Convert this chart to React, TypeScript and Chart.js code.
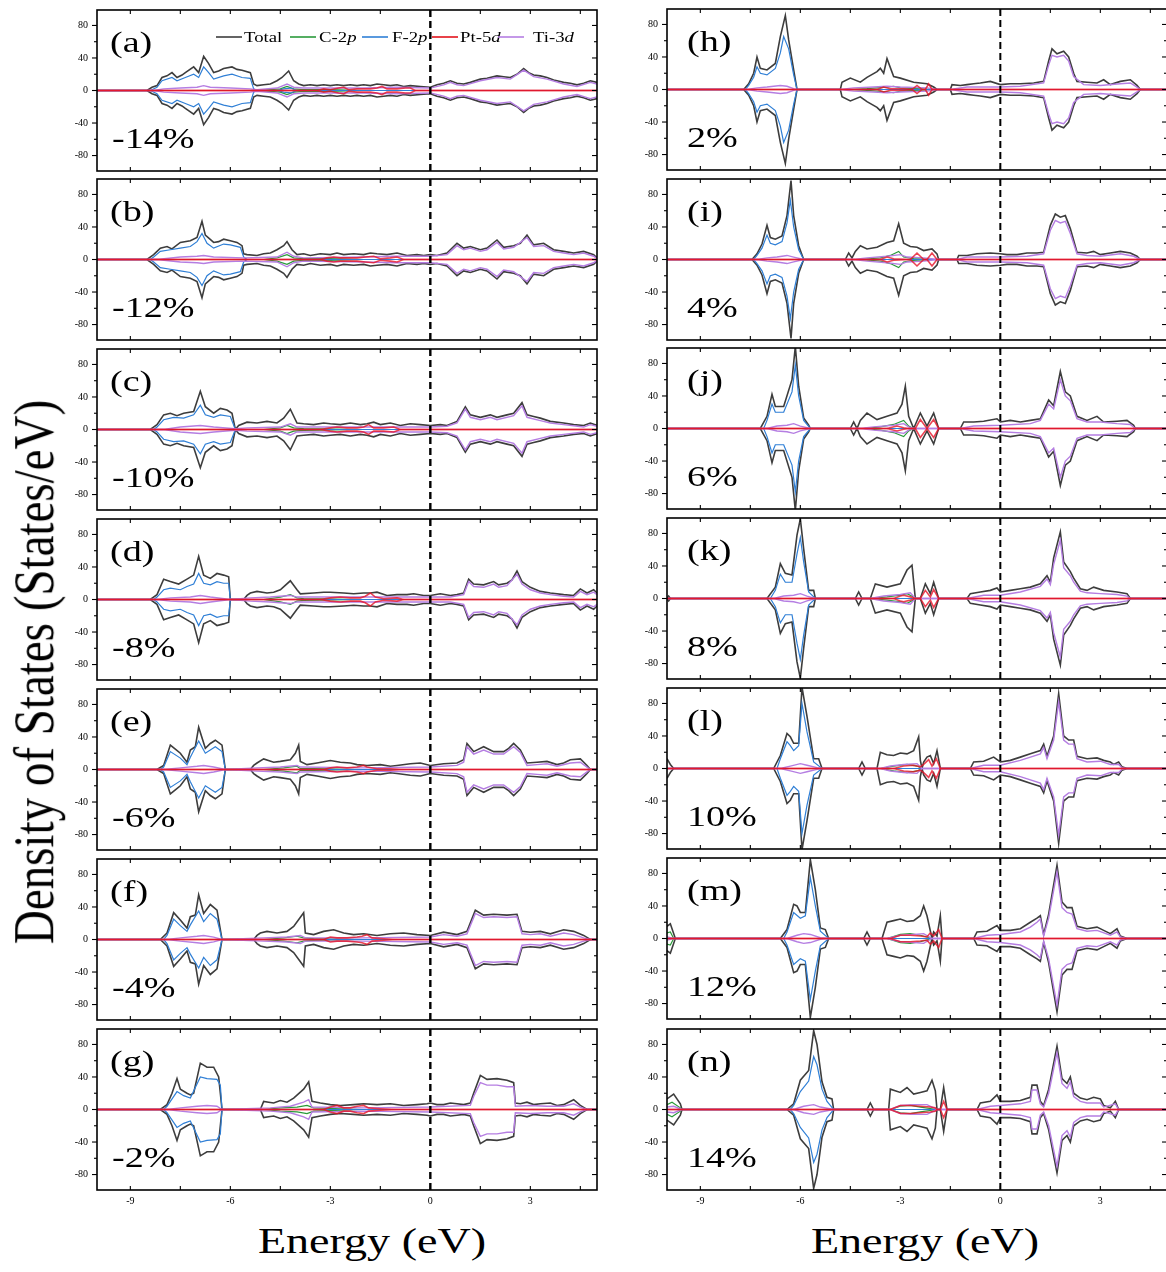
import React, { useEffect, useRef } from "react";
import { Chart, registerables } from "chart.js";
Chart.register(...registerables);

// ---------- axis / labels ----------
const X_MIN = -10;
const X_MAX = 5;
const Y_LIM = 99;
const xMajorTicks = [-9, -6, -3, 0, 3];
const xMinorTicks = [-7.5, -4.5, -1.5, 1.5, 4.5];
const yMajorTicks = [-80, -40, 0, 40, 80];
const yMinorTicks = [-60, -20, 20, 60];
const seriesNames = ["Total", "C-2p", "F-2p", "Pt-5d", "Ti-3d"];
const seriesColors = ["#3d3d3d", "#2a9a3a", "#2f7fd6", "rgba(230,20,40,0.8)", "#b57ee2"];
const legendColors = ["#3d3d3d", "#2a9a3a", "#2f7fd6", "#e3121b", "#b57ee2"];
const seriesWidths = [1.6, 1.2, 1.2, 1.6, 1.4];
// paint order from top to bottom: Pt-5d, Ti-3d, F-2p, C-2p, Total
const paintOrder = [3, 4, 2, 1, 0];
const panelLetters = ["a", "b", "c", "d", "e", "f", "g", "h", "i", "j", "k", "l", "m", "n"];
const strainLabels = ["-14%", "-12%", "-10%", "-8%", "-6%", "-4%", "-2%", "2%", "4%", "6%", "8%", "10%", "12%", "14%"];

// ---------- data: [energy, DOS, energy, DOS, ...] (spin-up; spin-down mirrored) ----------
// (a) -14%
const totA = [-10,0, -8.5,0, -8.35,4, -8.2,6, -8.05,16, -7.9,18, -7.75,22, -7.6,16, -7.45,19, -7.35,22, -7.1,29, -6.95,22, -6.8,42, -6.65,33, -6.5,22, -6.35,24, -6.2,27, -5.95,29, -5.8,26, -5.65,25, -5.4,22, -5.3,8, -5.2,6, -5.0,7, -4.8,8, -4.6,12, -4.45,16, -4.25,24, -4.1,12, -3.95,8, -3.8,6, -3.6,7, -3.4,6, -3.2,7, -3.0,6, -2.8,7, -2.6,6, -2.4,7, -2.2,6, -2.0,7, -1.8,6, -1.6,8, -1.4,7, -1.2,6, -1.0,7, -0.8,5, -0.6,6, -0.3,5, 0,4, 0.2,7, 0.4,9, 0.6,12, 0.8,9, 1.0,8, 1.2,10, 1.5,14, 1.7,15, 2.0,18, 2.2,17, 2.4,16, 2.6,20, 2.8,27, 2.95,22, 3.1,19, 3.3,18, 3.5,16, 3.7,13, 4.0,10, 4.2,9, 4.4,7, 4.6,9, 4.8,12, 5.0,10];
const fA = [-10,0, -8.4,0, -8.2,4, -8.05,12, -7.75,16, -7.6,12, -7.35,16, -7.1,20, -6.95,16, -6.8,29, -6.65,22, -6.5,14, -6.2,18, -5.95,20, -5.65,16, -5.4,15, -5.3,2, -5.2,0, -4.6,0, -4.4,2, -4.2,3, -4.0,0, 5,0];
const tiA = [-10,0, -8.3,0, -8.0,2, -7.5,3, -7.0,4, -6.8,6, -6.6,4, -6.0,3, -5.4,2, -5.2,1, -4.6,3, -4.3,8, -4.1,4, -3.8,3, -2.0,3, -1.0,4, 0,3, 0.4,7, 0.6,10, 0.8,7, 1.0,6, 1.5,12, 2.0,16, 2.4,14, 2.8,25, 3.1,17, 3.5,14, 4.0,8, 4.4,5, 4.8,10, 5.0,8];
const ptA = [-10,0, -3.4,0, -3.2,2, -3.0,1, -2.75,3, -2.6,4, -2.45,1, -2.2,2, -1.8,2, -1.6,3, -1.45,5, -1.3,2, -1.0,2, -0.75,3, -0.6,3, -0.45,0, 5,0];
const cA = [-10,0, -5.2,0, -4.8,1, -4.5,2, -4.3,5, -4.1,2, -3.8,1, -3.0,1, -2.0,0, 5,0];
// (b) -12%
const totB = [-10,0, -8.5,0, -8.3,6, -8.1,14, -7.9,16, -7.75,13, -7.5,21, -7.2,23, -7.0,27, -6.85,47, -6.75,30, -6.5,21, -6.35,22, -6.2,25, -6.0,23, -5.8,21, -5.65,17, -5.6,7, -5.5,6, -5.2,5, -5.0,7, -4.8,8, -4.6,12, -4.4,17, -4.3,22, -4.15,12, -4.0,6, -3.8,7, -3.6,5, -3.3,7, -3.0,6, -2.8,8, -2.6,6, -2.3,7, -2.0,6, -1.8,8, -1.6,7, -1.3,6, -1.0,8, -0.7,5, -0.4,6, -0.2,5, 0,6, 0.2,5, 0.5,8, 0.8,20, 1.0,14, 1.2,16, 1.5,12, 1.7,14, 2.0,24, 2.2,15, 2.5,17, 2.7,20, 2.9,30, 3.1,18, 3.4,20, 3.7,12, 4.0,10, 4.3,8, 4.6,10, 4.9,6, 5.0,2];
const fB = [-10,0, -8.4,0, -8.3,3, -8.1,10, -7.8,12, -7.5,14, -7.2,16, -7.0,22, -6.85,32, -6.7,20, -6.5,14, -6.2,19, -6.0,18, -5.7,15, -5.6,3, -5.5,0, 5,0];
const tiB = [-10,0, -8.2,0, -7.5,3, -7.0,4, -6.8,5, -6.5,3, -5.6,2, -4.6,3, -4.3,9, -4.1,4, -3.8,2, -2.0,3, -1.0,4, 0,4, 0.5,6, 0.8,17, 1.0,12, 1.2,14, 1.5,10, 1.7,12, 2.0,21, 2.2,13, 2.5,15, 2.9,27, 3.1,16, 3.4,17, 3.7,10, 4.0,8, 4.3,6, 4.6,8, 4.9,4, 5.0,1];
const ptB = [-10,0, -3.3,0, -3.1,2, -2.9,3, -2.7,2, -2.4,2, -2.2,2, -1.95,3, -1.7,4, -1.5,1, -1.2,2, -1.0,3, -0.8,0, 5,0];
const cB = [-10,0, -5.0,0, -4.6,2, -4.3,6, -4.1,2, -3.8,1, -3.0,1, -2.0,0, 5,0];
// (c) -10%
const totC = [-10,0, -8.4,0, -8.2,6, -8.0,18, -7.8,20, -7.6,17, -7.4,20, -7.1,22, -6.9,47, -6.75,28, -6.5,20, -6.3,26, -6.1,24, -5.95,20, -5.85,0, -5.75,5, -5.5,9, -5.2,8, -4.9,10, -4.6,8, -4.4,14, -4.2,25, -4.0,8, -3.8,7, -3.5,6, -3.2,8, -3.0,7, -2.7,6, -2.4,8, -2.1,6, -1.9,7, -1.7,9, -1.5,6, -1.2,8, -0.9,5, -0.6,7, -0.3,6, 0,5, 0.3,6, 0.5,5, 0.8,10, 1.05,28, 1.2,18, 1.5,15, 1.8,18, 2.0,15, 2.3,18, 2.5,20, 2.75,33, 2.9,18, 3.1,16, 3.3,14, 3.6,10, 4.0,8, 4.3,6, 4.6,5, 4.8,8, 5.0,5];
const fC = [-10,0, -8.3,0, -8.2,3, -8.0,12, -7.7,15, -7.4,14, -7.1,18, -6.9,30, -6.75,18, -6.5,15, -6.3,18, -6.0,16, -5.85,0, 5,0];
const tiC = [-10,0, -8.0,0, -7.5,3, -6.9,5, -6.5,3, -5.85,1, -5.5,2, -4.5,3, -4.2,7, -4.0,3, -2.0,3, 0,3, 0.5,4, 0.8,8, 1.05,25, 1.2,15, 1.5,12, 1.8,15, 2.0,12, 2.5,17, 2.75,29, 2.9,15, 3.3,11, 3.6,8, 4.0,6, 4.6,3, 4.8,6, 5.0,4];
const ptC = [-10,0, -3.3,0, -3.0,2, -2.8,3, -2.5,2, -2.2,2, -2.0,3, -1.85,6, -1.7,2, -1.4,2, -1.1,3, -0.9,0, 5,0];
const cC = [-10,0, -5.0,0, -4.5,2, -4.3,5, -4.1,2, -3.8,1, -2.0,0, 5,0];
// (d) -8%
const totD = [-10,0, -8.4,0, -8.2,6, -8.0,25, -7.8,22, -7.55,19, -7.3,25, -7.1,30, -6.95,53, -6.8,30, -6.6,26, -6.4,32, -6.2,30, -6.05,28, -6.0,0, -5.6,0, -5.5,5, -5.4,8, -5.2,10, -4.9,8, -4.7,9, -4.5,12, -4.2,23, -4.0,12, -3.9,7, -3.5,8, -3.2,9, -3.0,9, -2.6,8, -2.3,7, -2.0,8, -1.8,8, -1.6,9, -1.3,5, -1.0,6, -0.7,6, -0.5,7, -0.2,5, 0,5, 0.3,7, 0.6,5, 0.8,6, 1.0,8, 1.15,25, 1.3,19, 1.6,18, 1.9,22, 2.05,18, 2.3,20, 2.45,24, 2.6,35, 2.75,22, 3.0,15, 3.3,10, 3.6,8, 4.0,6, 4.3,5, 4.5,13, 4.7,8, 4.9,12, 5.0,8];
const fD = [-10,0, -8.3,0, -8.2,3, -8.0,12, -7.8,14, -7.5,12, -7.3,16, -7.1,19, -6.95,32, -6.8,20, -6.6,18, -6.4,22, -6.2,20, -6.05,20, -6.0,0, 5,0];
const tiD = [-10,0, -8.2,0, -7.8,2, -7.2,3, -6.9,5, -6.6,3, -6.0,0, -5.4,2, -4.8,3, -4.5,4, -4.2,5, -4.0,3, -2.0,3, 0,3, 0.6,3, 1.0,6, 1.15,22, 1.3,16, 1.6,15, 1.9,19, 2.05,15, 2.3,17, 2.6,31, 2.75,19, 3.0,12, 3.3,8, 3.6,6, 4.0,4, 4.3,3, 4.5,10, 4.7,6, 4.9,9, 5.0,6];
const ptD = [-10,0, -3.3,0, -3.0,2, -2.7,3, -2.4,2, -2.1,2, -1.95,4, -1.8,8, -1.65,3, -1.4,1, -1.0,2, -0.8,0, 5,0];
const cD = [-10,0, -5.0,0, -4.5,3, -4.2,6, -4.0,2, -3.8,1, -2.0,0, 5,0];
// (e) -6%
const totE = [-10,0, -8.2,0, -8.0,5, -7.8,30, -7.65,25, -7.5,20, -7.3,9, -7.2,24, -7.05,28, -6.95,52, -6.75,26, -6.6,32, -6.45,36, -6.25,30, -6.15,0, -5.4,0, -5.3,5, -5.2,8, -5.0,13, -4.7,9, -4.5,10, -4.2,12, -4.05,20, -3.95,30, -3.9,10, -3.7,6, -3.4,8, -3.0,11, -2.7,9, -2.4,8, -2.2,6, -1.9,5, -1.5,6, -1.2,4, -1.0,5, -0.6,7, -0.3,8, 0,5, 0.4,7, 0.8,8, 1.0,12, 1.1,32, 1.3,22, 1.6,28, 1.9,22, 2.2,22, 2.35,26, 2.5,32, 2.7,24, 2.9,8, 3.2,9, 3.5,10, 3.8,6, 4.0,8, 4.2,12, 4.5,13, 4.7,5, 4.8,0, 5,0];
const fE = [-10,0, -8.1,0, -8.0,3, -7.8,22, -7.5,14, -7.3,6, -7.2,15, -6.95,35, -6.75,20, -6.45,28, -6.25,22, -6.15,0, 5,0];
const tiE = [-10,0, -8.0,0, -7.5,2, -7.0,4, -6.8,5, -6.5,3, -6.15,0, -5.2,2, -4.5,3, -4.0,5, -3.9,3, -2.0,2, 0,3, 0.8,5, 1.0,9, 1.1,28, 1.3,19, 1.6,24, 1.9,19, 2.2,19, 2.5,28, 2.7,21, 2.9,5, 3.2,6, 3.5,7, 3.8,4, 4.2,8, 4.5,9, 4.7,3, 4.8,0, 5,0];
const ptE = [-10,0, -3.2,0, -3.0,2, -2.8,3, -2.5,2, -2.2,3, -2.0,5, -1.9,3, -1.6,1, -1.2,1, -0.8,0, 5,0];
const cE = [-10,0, -5.0,0, -4.4,2, -4.0,4, -3.9,1, -3.5,1, -2.0,0, 5,0];
// (f) -4%
const totF = [-10,0, -8.1,0, -7.9,8, -7.7,33, -7.5,24, -7.3,14, -7.2,28, -7.05,30, -6.95,55, -6.8,32, -6.6,43, -6.4,36, -6.25,0, -5.3,0, -5.2,5, -5.1,8, -4.9,10, -4.6,8, -4.3,10, -4.1,16, -3.8,33, -3.75,8, -3.5,6, -3.2,10, -2.9,12, -2.6,8, -2.3,6, -2.0,7, -1.6,5, -1.2,7, -0.8,8, -0.4,6, 0,5, 0.4,9, 0.8,6, 1.1,10, 1.35,36, 1.6,30, 1.9,31, 2.3,30, 2.6,31, 2.75,10, 3.0,9, 3.3,10, 3.6,7, 4.0,12, 4.3,10, 4.6,5, 4.8,0, 5,0];
const fF = [-10,0, -8.0,0, -7.9,5, -7.7,25, -7.5,17, -7.3,10, -7.2,18, -6.95,35, -6.8,22, -6.6,32, -6.4,25, -6.25,0, 5,0];
const tiF = [-10,0, -7.9,0, -7.5,2, -7.0,4, -6.8,5, -6.5,3, -6.25,0, -5.0,2, -4.3,3, -3.9,5, -3.75,2, -2.0,2, 0,3, 0.4,6, 0.8,4, 1.1,7, 1.35,32, 1.6,27, 1.9,28, 2.3,27, 2.6,28, 2.75,7, 3.0,6, 3.3,7, 3.6,4, 4.0,8, 4.3,6, 4.6,2, 4.8,0, 5,0];
const ptF = [-10,0, -3.2,0, -3.0,3, -2.8,2, -2.5,2, -2.2,3, -2.05,4, -1.9,6, -1.75,2, -1.4,1, -1.0,0, 5,0];
const cF = [-10,0, -5.0,0, -4.4,2, -4.0,4, -3.8,2, -3.5,1, -2.0,0, 5,0];
// (g) -2%
const totG = [-10,0, -8.1,0, -7.9,6, -7.75,20, -7.6,38, -7.5,25, -7.3,20, -7.2,18, -7.1,20, -6.9,57, -6.7,52, -6.5,52, -6.35,40, -6.25,0, -5.1,0, -5.0,10, -4.85,9, -4.7,8, -4.5,11, -4.3,9, -4.1,14, -3.8,25, -3.65,34, -3.55,10, -3.3,8, -3.0,6, -2.7,5, -2.3,6, -2.0,7, -1.6,6, -1.2,7, -0.8,5, -0.4,6, -0.1,7, 0,8, 0.2,6, 0.4,6, 0.6,8, 0.8,7, 1.0,6, 1.2,8, 1.3,20, 1.5,42, 1.7,37, 2.0,38, 2.3,36, 2.5,33, 2.55,8, 2.7,7, 2.9,9, 3.1,6, 3.3,7, 3.6,8, 3.8,5, 4.0,6, 4.3,12, 4.5,5, 4.7,0, 5,0];
const fG = [-10,0, -8.0,0, -7.9,4, -7.6,22, -7.4,17, -7.2,14, -6.9,40, -6.7,38, -6.4,37, -6.3,30, -6.25,0, 5,0];
const tiG = [-10,0, -7.9,0, -7.5,2, -7.0,4, -6.7,5, -6.4,4, -6.25,0, -4.8,2, -4.2,4, -3.8,9, -3.65,12, -3.55,3, -2.0,2, 0,3, 1.2,5, 1.3,16, 1.5,33, 1.7,30, 2.0,30, 2.3,28, 2.5,28, 2.55,4, 3.0,5, 3.5,4, 4.0,4, 4.3,7, 4.5,3, 4.7,0, 5,0];
const ptG = [-10,0, -3.2,0, -3.0,3, -2.8,5, -2.6,2, -2.4,2, -2.2,4, -2.0,5, -1.85,2, -1.5,1, -1.0,0, 5,0];
const cG = [-10,0, -5.0,0, -4.5,2, -4.0,3, -3.7,5, -3.5,2, -2.0,0, 5,0];
// (h) 2%
const totH = [-10,0, -7.7,0, -7.55,7, -7.4,20, -7.3,40, -7.2,26, -7.0,24, -6.75,32, -6.6,65, -6.45,91, -6.35,61, -6.2,24, -6.1,0, -4.8,0, -4.75,9, -4.5,14, -4.2,9, -4.0,15, -3.7,22, -3.6,26, -3.5,20, -3.4,38, -3.2,16, -3.0,14, -2.6,9, -2.2,7, -2.0,3, -1.9,0, -1.5,0, -1.45,6, -1.2,5, -1.0,6, -0.8,7, -0.6,8, -0.3,10, 0,6, 0.3,7, 0.6,7, 1.0,8, 1.3,10, 1.45,35, 1.55,50, 1.7,44, 1.9,47, 2.05,40, 2.2,20, 2.3,10, 2.6,9, 2.9,8, 3.1,12, 3.3,6, 3.6,10, 3.9,12, 4.1,5, 4.2,0, 5,0];
const fH = [-10,0, -7.65,0, -7.55,5, -7.4,15, -7.3,28, -7.2,20, -7.0,18, -6.75,26, -6.6,45, -6.5,65, -6.35,50, -6.2,18, -6.1,0, 5,0];
const tiH = [-10,0, -7.6,0, -7.3,2, -7.0,3, -6.6,5, -6.4,4, -6.2,1, -6.1,0, -4.8,0, -4.4,2, -3.8,3, -3.4,4, -3.0,3, -2.2,2, -1.9,0, -1.5,0, -1.0,3, 0,3, 0.6,4, 1.3,8, 1.45,30, 1.55,42, 1.7,40, 1.9,42, 2.05,35, 2.2,16, 2.5,6, 3.0,5, 3.6,7, 3.9,8, 4.1,3, 4.2,0, 5,0];
const ptH = [-10,0, -3.7,0, -3.5,3, -3.3,1, -2.9,1, -2.65,0, -2.5,5, -2.35,0, -2.25,0, -2.15,7, -2.05,0, 5,0];
const cH = [-10,0, -4.5,0, -4.0,1, -3.4,3, -3.2,4, -3.0,2, -2.5,1, -2.0,0, 5,0];
// (i) 4%
const totI = [-10,0, -7.45,0, -7.3,7, -7.15,19, -7.0,42, -6.9,27, -6.75,25, -6.55,29, -6.4,54, -6.28,97, -6.2,54, -6.05,17, -5.9,0, -4.65,0, -4.55,8, -4.45,2, -4.35,10, -4.2,17, -4.0,13, -3.7,15, -3.4,21, -3.2,23, -3.05,44, -2.9,20, -2.7,16, -2.5,15, -2.3,11, -2.05,13, -1.9,7, -1.85,0, -1.3,0, -1.25,5, -1.0,5, -0.7,7, -0.3,8, 0,7, 0.2,6, 0.5,6, 0.8,8, 1.1,8, 1.3,9, 1.5,42, 1.65,56, 1.8,52, 1.95,54, 2.1,38, 2.3,9, 2.6,8, 2.8,10, 3.0,6, 3.3,8, 3.6,10, 3.9,8, 4.1,4, 4.2,0, 5,0];
const fI = [-10,0, -7.4,0, -7.3,5, -7.15,14, -7.0,30, -6.9,20, -6.75,18, -6.55,22, -6.4,45, -6.3,73, -6.2,40, -6.05,12, -5.9,0, 5,0];
const tiI = [-10,0, -7.3,0, -7.0,2, -6.7,3, -6.4,5, -6.2,3, -5.9,0, -4.4,0, -4.0,2, -3.4,4, -3.0,6, -2.8,3, -2.3,2, -1.85,0, -1.3,0, -1.0,3, 0,3, 0.8,4, 1.3,7, 1.5,36, 1.65,48, 1.8,45, 1.95,47, 2.1,32, 2.3,7, 2.6,5, 3.0,4, 3.6,7, 4.0,4, 4.2,0, 5,0];
const ptI = [-10,0, -3.6,0, -3.4,3, -3.2,1, -2.7,0, -2.5,8, -2.3,0, -2.2,0, -2.05,8, -1.9,0, 5,0];
const cI = [-10,0, -4.2,0, -3.6,2, -3.3,5, -3.05,10, -2.9,3, -2.6,1, -2.0,0, 5,0];
// (j) 6%
const totJ = [-10,0, -7.2,0, -7.0,15, -6.85,42, -6.75,27, -6.5,27, -6.25,60, -6.15,101, -6.05,52, -5.9,13, -5.75,4, -5.7,0, -4.5,0, -4.4,8, -4.3,0, -4.2,10, -4.0,19, -3.7,11, -3.4,15, -3.1,19, -2.95,30, -2.85,52, -2.75,15, -2.6,0, -2.4,19, -2.2,3, -2.0,19, -1.85,0, -1.2,0, -1.1,8, -0.8,8, -0.5,9, -0.1,12, 0,8, 0.3,10, 0.6,8, 0.9,10, 1.2,12, 1.45,35, 1.6,28, 1.8,70, 1.95,45, 2.1,40, 2.3,15, 2.6,10, 2.9,15, 3.1,8, 3.5,9, 3.8,10, 4.0,4, 4.05,0, 5,0];
const fJ = [-10,0, -7.1,0, -7.0,10, -6.85,30, -6.75,20, -6.5,20, -6.25,45, -6.15,78, -6.05,40, -5.9,10, -5.7,0, 5,0];
const tiJ = [-10,0, -7.0,0, -6.7,3, -6.4,4, -6.2,6, -6.0,3, -5.7,0, -4.2,0, -3.8,2, -3.2,4, -2.9,6, -2.75,2, -2.6,0, -1.2,0, -0.8,3, 0,4, 0.9,6, 1.2,10, 1.45,30, 1.6,24, 1.8,60, 1.95,40, 2.1,34, 2.3,12, 2.6,8, 3.0,8, 3.5,6, 3.9,5, 4.05,0, 5,0];
const ptJ = [-10,0, -3.4,0, -3.1,3, -2.9,1, -2.75,0, -2.55,0, -2.4,11, -2.2,0, -2.0,11, -1.85,0, 5,0];
const cJ = [-10,0, -4.1,0, -3.6,2, -3.2,5, -2.9,10, -2.75,3, -2.6,0, 5,0];
// (k) 8%
const totK = [-10,0, -9.95,3, -9.9,0, -7.0,0, -6.75,14, -6.6,43, -6.45,31, -6.25,29, -6.1,78, -6.0,98, -5.9,61, -5.75,10, -5.6,10, -5.55,0, -4.35,0, -4.25,8, -4.15,0, -3.9,0, -3.75,18, -3.4,14, -3.0,18, -2.8,35, -2.65,41, -2.55,0, -2.4,0, -2.25,18, -2.1,6, -2.0,20, -1.85,0, -1.0,0, -0.9,6, -0.6,8, -0.3,10, -0.1,13, 0,8, 0.3,10, 0.6,12, 0.9,14, 1.2,18, 1.4,28, 1.5,20, 1.6,50, 1.8,82, 1.9,45, 2.1,33, 2.2,25, 2.4,12, 2.6,10, 2.8,14, 3.1,10, 3.5,8, 3.8,6, 3.9,0, 5,0];
const fK = [-10,0, -6.9,0, -6.75,10, -6.6,30, -6.45,20, -6.25,20, -6.1,55, -6.0,75, -5.9,45, -5.75,8, -5.55,0, 5,0];
const tiK = [-10,0, -6.8,0, -6.5,3, -6.2,4, -6.0,6, -5.8,3, -5.55,0, -3.9,0, -3.5,3, -3.0,5, -2.7,7, -2.55,0, -1.0,0, -0.5,4, 0,4, 0.6,8, 1.2,15, 1.4,24, 1.5,17, 1.6,42, 1.8,72, 1.9,38, 2.1,28, 2.2,20, 2.4,9, 2.6,7, 3.0,6, 3.5,5, 3.8,3, 3.9,0, 5,0];
const ptK = [-10,0, -3.2,0, -3.0,3, -2.9,4, -2.7,2, -2.55,0, -2.4,0, -2.25,10, -2.1,2, -2.0,11, -1.85,0, 5,0];
const cK = [-10,0, -3.9,0, -3.4,2, -3.0,4, -2.8,6, -2.6,2, -2.55,0, 5,0];
// (l) 10%
const totL = [-10,12, -9.9,5, -9.8,0, -6.8,0, -6.6,16, -6.4,43, -6.3,39, -6.2,31, -6.05,31, -5.95,100, -5.8,64, -5.6,12, -5.45,12, -5.35,0, -4.25,0, -4.15,8, -4.05,0, -3.7,0, -3.6,20, -3.4,17, -3.2,16, -3.0,19, -2.8,18, -2.6,22, -2.45,39, -2.4,10, -2.35,0, -2.3,8, -2.2,14, -2.1,16, -2.0,6, -1.9,22, -1.8,0, -0.9,0, -0.8,8, -0.5,9, -0.2,14, 0,8, 0.3,10, 0.6,14, 0.9,18, 1.2,22, 1.3,30, 1.4,15, 1.6,40, 1.75,92, 1.9,40, 2.05,35, 2.2,35, 2.3,15, 2.6,12, 2.9,13, 3.1,10, 3.3,8, 3.4,5, 3.55,8, 3.65,2, 3.8,0, 5,0];
const fL = [-10,0, -6.7,0, -6.6,12, -6.4,33, -6.3,28, -6.2,22, -6.05,28, -5.95,80, -5.8,45, -5.6,8, -5.35,0, 5,0];
const tiL = [-10,0, -6.6,0, -6.3,3, -6.0,6, -5.8,4, -5.5,1, -5.35,0, -3.6,0, -3.3,3, -2.9,5, -2.5,6, -2.35,0, -0.9,0, -0.5,4, 0,4, 0.6,10, 1.2,18, 1.3,26, 1.4,12, 1.6,35, 1.75,82, 1.9,35, 2.05,30, 2.2,30, 2.3,12, 2.6,8, 3.0,9, 3.3,5, 3.55,5, 3.65,1, 3.8,0, 5,0];
const ptL = [-10,0, -3.2,0, -2.9,3, -2.6,4, -2.4,2, -2.3,5, -2.15,11, -2.05,3, -1.92,12, -1.8,0, 5,0];
const cL = [-10,0, -3.6,0, -3.2,3, -2.8,5, -2.5,3, -2.35,0, 5,0];
// (m) 12%
const totM = [-10,15, -9.9,18, -9.75,0, -6.6,0, -6.4,11, -6.2,42, -6.1,40, -6.0,32, -5.85,32, -5.7,97, -5.55,60, -5.4,13, -5.25,11, -5.15,0, -4.1,0, -4.0,8, -3.9,0, -3.55,0, -3.4,20, -3.2,22, -3.0,24, -2.8,21, -2.6,22, -2.4,28, -2.3,40, -2.2,28, -2.05,0, -2.0,8, -1.9,3, -1.8,28, -1.75,0, -0.8,0, -0.7,8, -0.4,9, -0.1,16, 0,10, 0.3,10, 0.6,12, 0.9,20, 1.1,25, 1.2,28, 1.3,5, 1.45,30, 1.7,90, 1.85,45, 2.0,38, 2.15,38, 2.3,15, 2.6,12, 2.9,14, 3.1,10, 3.3,6, 3.5,12, 3.6,3, 3.8,0, 5,0];
const fM = [-10,0, -6.5,0, -6.4,8, -6.2,32, -6.0,25, -5.85,28, -5.7,75, -5.55,40, -5.4,9, -5.15,0, 5,0];
const tiM = [-10,2, -9.8,0, -6.4,0, -6.1,4, -5.9,6, -5.7,5, -5.4,1, -5.15,0, -3.4,0, -3.0,4, -2.6,5, -2.3,6, -2.05,0, -0.8,0, -0.4,4, 0,5, 0.6,8, 0.9,14, 1.1,20, 1.2,24, 1.3,3, 1.45,25, 1.7,82, 1.85,38, 2.0,32, 2.15,30, 2.3,12, 2.6,9, 2.9,10, 3.3,4, 3.5,8, 3.6,2, 3.8,0, 5,0];
const ptM = [-10,0, -3.3,0, -3.0,4, -2.7,4, -2.4,3, -2.2,2, -2.1,7, -2.0,3, -1.85,11, -1.75,0, 5,0];
const cM = [-10,7, -9.9,8, -9.8,0, -3.4,0, -3.0,5, -2.7,6, -2.4,4, -2.05,0, 5,0];
// (n) 14%
const totN = [-10,13, -9.8,19, -9.6,7, -9.55,0, -6.4,0, -6.2,7, -6.0,36, -5.75,48, -5.6,97, -5.5,80, -5.35,34, -5.2,15, -5.05,13, -5.0,0, -4.0,0, -3.9,8, -3.8,0, -3.35,0, -3.3,25, -3.0,21, -2.8,27, -2.6,19, -2.4,21, -2.2,23, -2.05,36, -1.95,23, -1.9,0, -1.8,0, -1.7,27, -1.6,0, -0.7,0, -0.6,8, -0.3,10, -0.1,18, 0,10, 0.3,10, 0.6,11, 0.9,15, 0.95,30, 1.1,30, 1.2,10, 1.3,5, 1.45,25, 1.7,78, 1.85,38, 2.0,32, 2.1,40, 2.2,20, 2.4,14, 2.6,12, 2.8,15, 3.0,13, 3.1,5, 3.3,2, 3.45,10, 3.55,0, 5,0];
const fN = [-10,0, -6.3,0, -6.2,5, -6.0,22, -5.75,35, -5.6,65, -5.5,55, -5.35,25, -5.2,10, -5.0,0, 5,0];
const tiN = [-10,3, -9.8,4, -9.55,0, -6.2,0, -5.9,4, -5.6,6, -5.4,3, -5.0,0, -3.3,0, -3.0,5, -2.6,6, -2.2,6, -1.9,0, -0.7,0, -0.3,4, 0,5, 0.6,7, 0.9,10, 0.95,24, 1.1,24, 1.2,7, 1.3,3, 1.45,20, 1.7,70, 1.85,32, 2.0,26, 2.1,34, 2.2,16, 2.4,10, 2.6,8, 3.0,8, 3.1,3, 3.45,7, 3.55,0, 5,0];
const ptN = [-10,0, -3.3,0, -3.0,5, -2.7,5, -2.4,4, -2.1,3, -1.95,2, -1.9,0, -1.8,0, -1.7,10, -1.6,0, 5,0];
const cN = [-10,6, -9.85,9, -9.6,2, -9.55,0, -3.3,0, -3.0,4, -2.7,5, -2.4,3, -1.9,0, 5,0];

// order per panel: Total, C-2p, F-2p, Pt-5d, Ti-3d
const panelSeries = [
  [totA, cA, fA, ptA, tiA], [totB, cB, fB, ptB, tiB], [totC, cC, fC, ptC, tiC],
  [totD, cD, fD, ptD, tiD], [totE, cE, fE, ptE, tiE], [totF, cF, fF, ptF, tiF],
  [totG, cG, fG, ptG, tiG], [totH, cH, fH, ptH, tiH], [totI, cI, fI, ptI, tiI],
  [totJ, cJ, fJ, ptJ, tiJ], [totK, cK, fK, ptK, tiK], [totL, cL, fL, ptL, tiL],
  [totM, cM, fM, ptM, tiM], [totN, cN, fN, ptN, tiN],
];

// ---------- layout ----------
const LEFT_TOPS = [10, 179, 349, 519, 689, 859, 1029];
const RIGHT_TOPS = [9, 179, 348, 518, 688, 858, 1029];
const COL_LEFT = [97, 667];
const PW = 500;
const PH = 161;
const YAX_W = 45;
const PAD_T = 6;
const PAD_R = 8;
const PAD_B = 6;
const XAX_H = 22;
const SERIF = "'Liberation Serif', 'Times New Roman', serif";
const SX = 1.27;

function toPoints(arr: number[], sign: number) {
  const out: { x: number; y: number }[] = [];
  for (let i = 0; i < arr.length; i += 2) out.push({ x: arr[i], y: sign * arr[i + 1] });
  return out;
}

function stretchText(ctx: CanvasRenderingContext2D, text: string, x: number, y: number, font: string, sx: number) {
  ctx.save();
  ctx.translate(x, y);
  ctx.scale(sx, 1);
  ctx.font = font;
  ctx.fillText(text, 0, 0);
  ctx.restore();
}

const legendParts: [string, boolean][][] = [
  [["Total", false]],
  [["C-2", false], ["p", true]],
  [["F-2", false], ["p", true]],
  [["Pt-5", false], ["d", true]],
  [["Ti-3", false], ["d", true]],
];
const legendLineX = [119, 193, 265, 335, 401];
const legendTextX = [147, 222, 295, 363, 436];

function Panel({ idx }: { idx: number }) {
  const ref = useRef<HTMLCanvasElement>(null);
  const col = idx < 7 ? 0 : 1;
  const row = idx % 7;
  const isBottom = row === 6;
  const plotTop = (col === 0 ? LEFT_TOPS : RIGHT_TOPS)[row];
  const cw = YAX_W + PW + PAD_R;
  const ch = PAD_T + PH + (isBottom ? XAX_H : PAD_B);

  useEffect(() => {
    const series = panelSeries[idx];
    const datasets: any[] = [];
    // Chart.js paints the first dataset on top.
    paintOrder.forEach((s) => {
      [1, -1].forEach((sign) => {
        datasets.push({
          label: seriesNames[s] + (sign > 0 ? " (up)" : " (down)"),
          data: toPoints(series[s], sign),
          borderColor: seriesColors[s],
          backgroundColor: seriesColors[s],
          borderWidth: seriesWidths[s],
          pointRadius: 0,
          fill: false,
          tension: 0,
        });
      });
    });

    const decor = {
      id: "decor",
      afterDatasetsDraw(chart: any) {
        const { ctx, chartArea: a, scales } = chart;
        const xs = scales.x;
        const ys = scales.y;
        ctx.save();
        ctx.strokeStyle = "#000";
        ctx.fillStyle = "#000";
        // Fermi level dashed line
        const x0 = xs.getPixelForValue(0);
        ctx.setLineDash([7, 4]);
        ctx.lineWidth = col === 0 ? 2.4 : 2;
        ctx.beginPath();
        ctx.moveTo(x0, a.top);
        ctx.lineTo(x0, a.bottom);
        ctx.stroke();
        ctx.setLineDash([]);
        // frame
        ctx.lineWidth = 1.6;
        ctx.strokeRect(a.left, a.top, a.right - a.left, a.bottom - a.top);
        // ticks
        ctx.lineWidth = 1.1;
        const seg = (x1: number, y1: number, x2: number, y2: number) => {
          ctx.beginPath();
          ctx.moveTo(x1, y1);
          ctx.lineTo(x2, y2);
          ctx.stroke();
        };
        [...xMajorTicks, ...xMinorTicks].forEach((v) => {
          const px = xs.getPixelForValue(v);
          seg(px, a.bottom, px, a.bottom - 4);
          seg(px, a.top, px, a.top + 4);
        });
        yMajorTicks.forEach((v) => {
          const py = ys.getPixelForValue(v);
          seg(a.left, py, a.left - 5, py);
          seg(a.right, py, a.right - 5, py);
        });
        yMinorTicks.forEach((v) => {
          const py = ys.getPixelForValue(v);
          seg(a.left, py, a.left - 3, py);
          seg(a.right, py, a.right - 3, py);
        });
        // panel letter and strain
        ctx.textBaseline = "alphabetic";
        ctx.textAlign = "left";
        const lx = col === 0 ? 13 : 20;
        const px2 = col === 0 ? 15 : 20;
        stretchText(ctx, "(" + panelLetters[idx] + ")", a.left + lx, a.top + 42, `30px ${SERIF}`, SX);
        stretchText(ctx, strainLabels[idx], a.left + px2, a.bottom - 23, `30px ${SERIF}`, SX);
        // legend in first panel
        if (idx === 0) {
          const ly = a.top + 27;
          legendParts.forEach((parts, s) => {
            ctx.strokeStyle = legendColors[s];
            ctx.lineWidth = 1.6;
            seg(a.left + legendLineX[s], ly, a.left + legendLineX[s] + 26, ly);
            let tx = a.left + legendTextX[s];
            parts.forEach(([t, it]) => {
              const font = `${it ? "italic " : ""}15px ${SERIF}`;
              ctx.font = font;
              const w = ctx.measureText(t).width * 1.25;
              stretchText(ctx, t, tx, ly + 5, font, 1.25);
              tx += w;
            });
          });
        }
        ctx.restore();
      },
    };

    const chart = new Chart(ref.current as HTMLCanvasElement, {
      type: "line",
      data: { datasets },
      options: {
        animation: false,
        responsive: false,
        maintainAspectRatio: false,
        devicePixelRatio: 1,
        events: [],
        layout: { padding: { left: 0, right: PAD_R, top: PAD_T, bottom: isBottom ? 0 : PAD_B } },
        plugins: { legend: { display: false }, tooltip: { enabled: false } },
        elements: { point: { radius: 0 }, line: { tension: 0 } },
        scales: {
          x: {
            type: "linear",
            min: X_MIN,
            max: X_MAX,
            grid: { display: false, drawTicks: false },
            border: { display: false },
            ticks: {
              display: isBottom,
              color: "#000",
              font: { family: SERIF, size: 10 },
              padding: 5,
              maxRotation: 0,
              autoSkip: false,
            },
            afterBuildTicks: (s: any) => {
              s.ticks = xMajorTicks.map((v) => ({ value: v }));
            },
            afterFit: (s: any) => {
              s.height = isBottom ? XAX_H : 0;
              s.paddingLeft = 0;
              s.paddingRight = 0;
              s.paddingTop = 0;
              s.paddingBottom = 0;
            },
          },
          y: {
            type: "linear",
            min: -Y_LIM,
            max: Y_LIM,
            grid: { display: false, drawTicks: false },
            border: { display: false },
            ticks: {
              color: "#000",
              font: { family: SERIF, size: 10 },
              padding: 9,
              autoSkip: false,
            },
            afterBuildTicks: (s: any) => {
              s.ticks = yMajorTicks.map((v) => ({ value: v }));
            },
            afterFit: (s: any) => {
              s.width = YAX_W;
              s.paddingTop = 0;
              s.paddingBottom = 0;
              s.paddingLeft = 0;
              s.paddingRight = 0;
            },
          },
        },
      } as any,
      plugins: [decor],
    });
    return () => chart.destroy();
  }, []);

  return (
    <canvas
      ref={ref}
      width={cw}
      height={ch}
      style={{ position: "absolute", left: COL_LEFT[col] - YAX_W, top: plotTop - PAD_T, width: cw, height: ch }}
    />
  );
}

export default function App() {
  const titleStyle: React.CSSProperties = {
    position: "absolute",
    fontFamily: SERIF,
    whiteSpace: "nowrap",
    lineHeight: 1,
    color: "#000",
  };
  return (
    <div
      style={{
        position: "fixed",
        left: 0,
        top: 0,
        width: 1166,
        height: 1272,
        overflow: "hidden",
        background: "#fff",
      }}
    >
      {panelLetters.map((_, i) => (
        <Panel key={i} idx={i} />
      ))}
      <div
        style={{
          ...titleStyle,
          fontSize: 47,
          left: 35,
          top: 672,
          transform: "translate(-50%, -50%) rotate(-90deg) scaleY(1.2)",
        }}
      >
        Density of States (States/eV)
      </div>
      <div style={{ ...titleStyle, fontSize: 36, left: 372, top: 1223, transform: "translateX(-50%) scaleX(1.28)" }}>
        Energy (eV)
      </div>
      <div style={{ ...titleStyle, fontSize: 36, left: 925, top: 1223, transform: "translateX(-50%) scaleX(1.28)" }}>
        Energy (eV)
      </div>
    </div>
  );
}
